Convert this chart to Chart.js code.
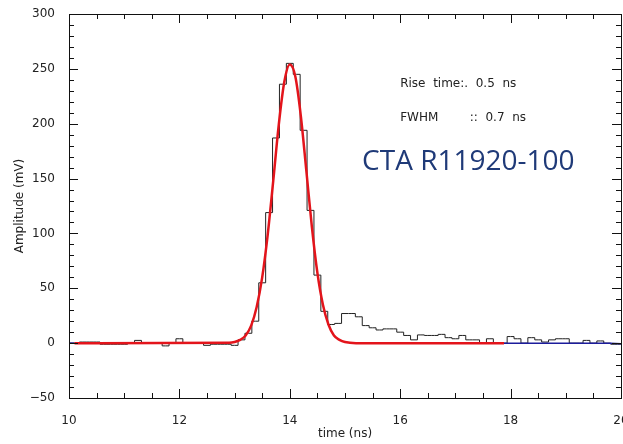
<!DOCTYPE html>
<html>
<head>
<meta charset="utf-8">
<script src="https://cdn.jsdelivr.net/npm/chart.js@4.4.0/dist/chart.umd.min.js"></script>
<style>
  html, body { margin: 0; padding: 0; background: #fff; overflow: hidden; }
  #wrap { width: 640px; height: 444px; }
</style>
</head>
<body>
<div id="wrap"><canvas id="myChart"></canvas></div>
<script>
    // measured pulse, 0.125 ns bins (bin centres)
    var histTime = [
        10, 10.125, 10.25, 10.375, 10.5, 10.625, 10.75, 10.875,
        11, 11.125, 11.25, 11.375, 11.5, 11.625, 11.75, 11.875,
        12, 12.125, 12.25, 12.375, 12.5, 12.625, 12.75, 12.875,
        13, 13.125, 13.25, 13.375, 13.5, 13.625, 13.75, 13.875,
        14, 14.125, 14.25, 14.375, 14.5, 14.625, 14.75, 14.875,
        15, 15.125, 15.25, 15.375, 15.5, 15.625, 15.75, 15.875,
        16, 16.125, 16.25, 16.375, 16.5, 16.625, 16.75, 16.875,
        17, 17.125, 17.25, 17.375, 17.5, 17.625, 17.75, 17.875,
        18, 18.125, 18.25, 18.375, 18.5, 18.625, 18.75, 18.875,
        19, 19.125, 19.25, 19.375, 19.5, 19.625, 19.75, 19.875,
        20
    ];
    var histAmp = [
        0, 0, 1, 1, 1, -1, -1, -1,
        -1, 0, 2.5, 0, 0, 0, -2.5, 0,
        4, 0, 0, 0, -2, -1, -1, -1,
        -2, 3, 9, 20, 55, 119, 187, 236,
        255, 245, 194, 121, 62, 29, 17, 18,
        27, 27, 24, 16, 14, 12, 13, 13,
        10, 7, 3, 7.5, 7, 7, 8, 5,
        4, 7, 3, 3, 0, 4, 0, 0,
        6, 4, 0, 5, 3, 1, 3, 4,
        4, 0, 0, 2.5, 0, 2, 0, -1,
        -1
    ];
    // fitted curve (red)
    var fitTime = [10.1, 12.9, 13.0, 13.1, 13.2, 13.3, 13.4, 13.5, 13.6, 13.7, 13.8, 13.9, 14.0,
                   14.1, 14.2, 14.3, 14.4, 14.5, 14.6, 14.7, 14.8, 14.9, 15.0, 15.2, 17.88];
    var fitAmp  = [0, 0.3, 1, 3, 7, 16, 33, 60, 99, 148, 199, 238, 254,
                   243, 207, 157, 106, 64, 35, 17, 7, 3, 1, 0, 0];
    // baseline outside the fit range (blue)
    var baseTimeA = [10, 10.1];
    var baseAmpA  = [0, 0];
    var baseTimeB = [17.88, 19.8, 20];
    var baseAmpB  = [0, 0, -0.5];

    var xTicks = [10, 12, 14, 16, 18, 20];
    var yTicks = [-50, 0, 50, 100, 150, 200, 250, 300];

    function pts(xs, ys) {
        return xs.map(function (x, i) { return { x: x, y: ys[i] }; });
    }

    const labelFont = { family: 'DejaVu Sans', size: 12 };

    // IDL-style box with inward ticks on all four sides
    const frameTicks = {
        id: 'frameTicks',
        afterDatasetsDraw(chart) {
            const c = chart.ctx, a = chart.chartArea;
            const xs = chart.scales.x, ys = chart.scales.y;
            c.save();
            c.strokeStyle = '#111';
            c.lineWidth = 1;
            c.strokeRect(Math.round(a.left) + 0.5, Math.round(a.top) + 0.5,
                         Math.round(a.right - a.left), Math.round(a.bottom - a.top));
            c.beginPath();
            for (let v = 10; v <= 20.001; v += 0.5) {
                const px = Math.round(xs.getPixelForValue(v)) + 0.5;
                const len = (Math.abs(v % 2) < 0.001) ? 9 : 5;
                c.moveTo(px, a.bottom); c.lineTo(px, a.bottom - len);
                c.moveTo(px, a.top); c.lineTo(px, a.top + len);
            }
            for (let v = -50; v <= 300; v += 10) {
                const py = Math.round(ys.getPixelForValue(v)) + 0.5;
                const len = (v % 50 === 0) ? 9 : 5;
                c.moveTo(a.left, py); c.lineTo(a.left + len, py);
                c.moveTo(a.right, py); c.lineTo(a.right - len, py);
            }
            c.stroke();
            c.restore();
        },
        afterDraw(chart) {
            const c = chart.ctx;
            const xs = chart.scales.x, ys = chart.scales.y;
            c.save();
            c.textBaseline = 'middle';
            c.textAlign = 'left';
            c.fillStyle = '#222';
            c.font = '12px "DejaVu Sans"';
            c.fillText('Rise  time:.  0.5  ns', xs.getPixelForValue(16.0), ys.getPixelForValue(236));
            c.fillText('FWHM', xs.getPixelForValue(16.0), ys.getPixelForValue(205));
            c.fillText('::  0.7  ns', xs.getPixelForValue(17.26), ys.getPixelForValue(205));
            c.fillStyle = '#1f3a78';
            c.font = '28px "Open Sans"';
            c.fillText('CTA R11920-100', xs.getPixelForValue(15.31), ys.getPixelForValue(165));
            c.restore();
        }
    };

    var ctx = document.getElementById('myChart').getContext('2d');
    var pulseChart = new Chart(ctx, {
        type: 'line',
        data: {
            datasets: [
                {
                    label: 'fit',
                    data: pts(fitTime, fitAmp),
                    borderColor: '#e3141b',
                    borderWidth: 2.5,
                    pointRadius: 0,
                    cubicInterpolationMode: 'monotone',
                    fill: false
                },
                {
                    label: 'baseline A',
                    data: pts(baseTimeA, baseAmpA),
                    borderColor: '#1c1c9c',
                    borderWidth: 1.5,
                    pointRadius: 0,
                    fill: false
                },
                {
                    label: 'baseline B',
                    data: pts(baseTimeB, baseAmpB),
                    borderColor: '#1c1c9c',
                    borderWidth: 1.5,
                    pointRadius: 0,
                    fill: false
                },
                {
                    label: 'signal',
                    data: pts(histTime, histAmp),
                    borderColor: '#222',
                    borderWidth: 1,
                    pointRadius: 0,
                    stepped: 'middle',
                    fill: false
                }
            ]
        },
        options: {
            responsive: true,
            maintainAspectRatio: false,
            animation: false,
            layout: { padding: { top: 14, right: 19, bottom: 0, left: 0 } },
            plugins: {
                legend: { display: false },
                tooltip: { enabled: false }
            },
            scales: {
                x: {
                    type: 'linear',
                    min: 10,
                    max: 20,
                    afterBuildTicks: function (s) { s.ticks = xTicks.map(function (v) { return { value: v }; }); },
                    afterFit: function (s) { s.height = 46; },
                    grid: { display: false },
                    border: { display: false },
                    ticks: { color: '#222', font: labelFont, padding: 8, maxRotation: 0 },
                    title: { display: true, text: 'time (ns)', color: '#222', font: labelFont, padding: { top: 0, bottom: 3 } }
                },
                y: {
                    min: -50,
                    max: 300,
                    afterBuildTicks: function (s) { s.ticks = yTicks.map(function (v) { return { value: v }; }); },
                    afterFit: function (s) { s.width = 69; },
                    grid: { display: false },
                    border: { display: false },
                    ticks: {
                        color: '#222',
                        font: labelFont,
                        padding: 6,
                        callback: function (value) { return String(value).replace('-', '\u2212'); }
                    },
                    title: { display: true, text: 'Amplitude (mV)', color: '#222', font: labelFont, padding: { top: 13, bottom: 0 } }
                }
            }
        },
        plugins: [frameTicks]
    });
</script>
</body>
</html>
